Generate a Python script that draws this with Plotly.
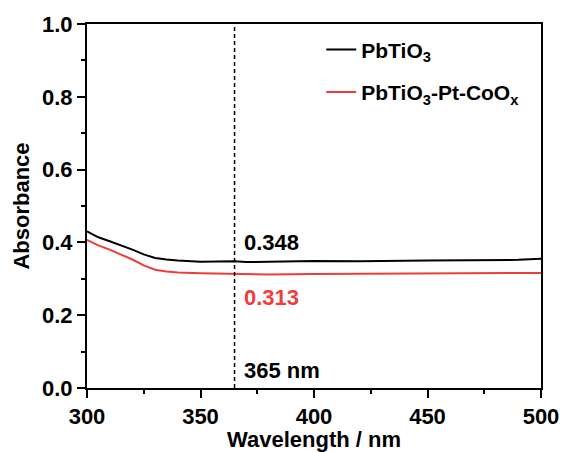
import plotly.graph_objects as go

wavelength = [300, 305, 310, 315, 320, 325, 330, 335, 340, 350, 360, 365, 370, 375, 380, 400, 420, 450, 480, 490, 500]
pbtio3 = [0.430, 0.414, 0.403, 0.392, 0.380, 0.367, 0.357, 0.353, 0.350, 0.347, 0.348, 0.348, 0.346, 0.346, 0.347, 0.349, 0.348, 0.350, 0.352, 0.352, 0.355]
pbtio3_pt_coox = [0.407, 0.392, 0.380, 0.367, 0.353, 0.337, 0.325, 0.320, 0.317, 0.315, 0.314, 0.313, 0.311, 0.311, 0.312, 0.313, 0.314, 0.315, 0.316, 0.316, 0.316]
marker_wl = 365
labels = ["0.348", "0.313", "365 nm"]

FONT = "Liberation Sans"
RED = "#f03c3c"
fig = go.Figure()
fig.add_trace(go.Scatter(x=wavelength, y=pbtio3, mode="lines", name="PbTiO<sub>3</sub>",
                         legendgroup="a", line=dict(color="black", width=2)))
fig.add_trace(go.Scatter(x=wavelength, y=pbtio3_pt_coox, mode="lines", name="PbTiO<sub>3</sub>-Pt-CoO<sub>x</sub>",
                         legendgroup="b", line=dict(color=RED, width=2)))

fig.add_shape(type="line", x0=marker_wl, x1=marker_wl, y0=0, y1=1, xref="x", yref="paper",
              line=dict(color="black", width=1.5, dash="4px,3px"))
fig.add_annotation(x=marker_wl, y=pbtio3[wavelength.index(marker_wl)], text="<b>" + labels[0] + "</b>", showarrow=False,
                   xanchor="left", yanchor="middle", xshift=7, yshift=19, font=dict(size=22, color="black", family=FONT))
fig.add_annotation(x=marker_wl, y=pbtio3_pt_coox[wavelength.index(marker_wl)], text="<b>" + labels[1] + "</b>", showarrow=False,
                   xanchor="left", yanchor="middle", xshift=7, yshift=-23, font=dict(size=22, color=RED, family=FONT))
fig.add_annotation(x=marker_wl, y=0.0, text="<b>" + labels[2] + "</b>", showarrow=False,
                   xanchor="left", yanchor="middle", xshift=7, yshift=18, font=dict(size=22, color="black", family=FONT))

tickfont = dict(size=22, family=FONT, color="black", weight="bold")
axis_common = dict(showline=True, linecolor="black", linewidth=2, mirror=True, ticks="outside",
                   ticklen=8, tickwidth=2, tickcolor="black", showgrid=False, zeroline=False,
                   tickfont=tickfont, automargin=False)
fig.update_xaxes(range=[300, 500], dtick=50, tickformat="d",
                 minor=dict(ticks="outside", ticklen=4, tickwidth=2, tickcolor="black", dtick=25),
                 title=dict(text="<b>Wavelength / nm</b>", font=dict(size=22, family=FONT, color="black"), standoff=0),
                 **axis_common)
fig.update_yaxes(range=[0, 1.0], dtick=0.2, tickformat=".1f",
                 minor=dict(ticks="outside", ticklen=4, tickwidth=2, tickcolor="black", dtick=0.1),
                 title=dict(text="<b>Absorbance</b>", font=dict(size=22, family=FONT, color="black"), standoff=6),
                 **axis_common)
fig.update_layout(
    width=565, height=452, margin=dict(l=87, r=24, t=24, b=64),
    plot_bgcolor="white", paper_bgcolor="white",
    font=dict(family=FONT, color="black"),
    legend=dict(x=0.516, y=0.985, xanchor="left", yanchor="top", bgcolor="rgba(0,0,0,0)",
                font=dict(size=21, family=FONT, color="black"), tracegroupgap=12, traceorder="grouped"),
)
fig.for_each_trace(lambda t: t.update(name="<b>" + t.name + "</b>"))
fig.write_html("out.html")
